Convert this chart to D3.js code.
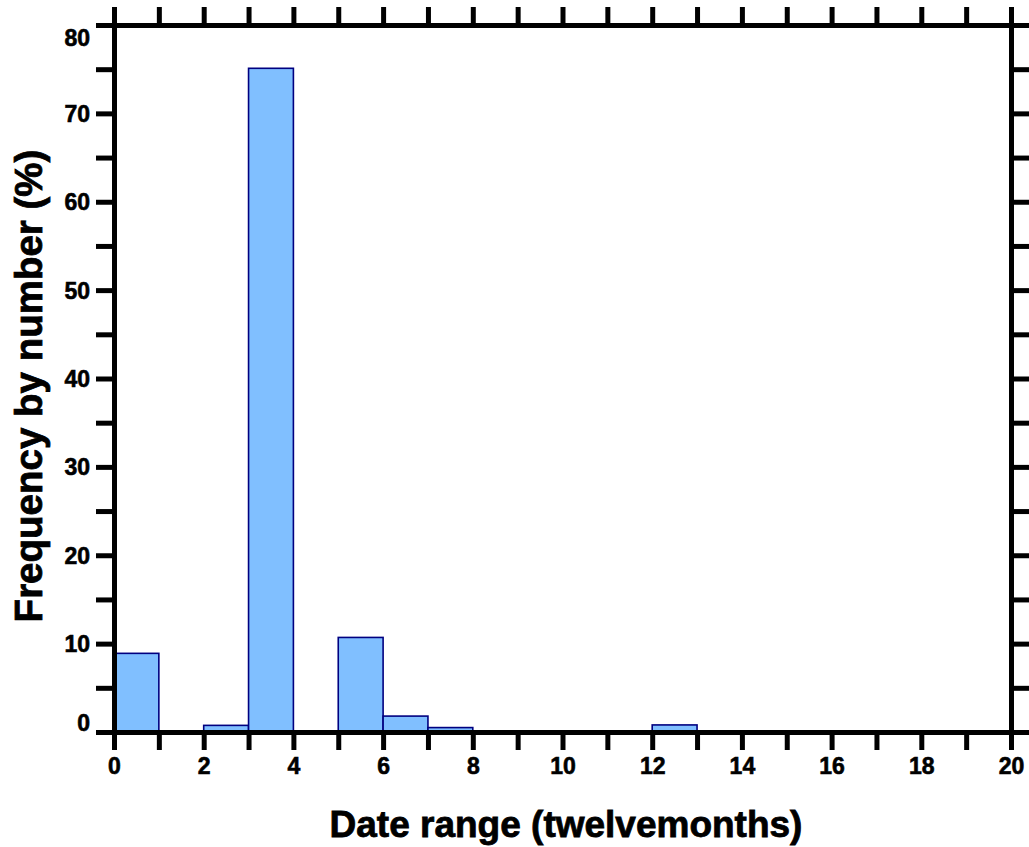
<!DOCTYPE html>
<html>
<head>
<meta charset="utf-8">
<script src="https://cdn.jsdelivr.net/npm/d3@7"></script>
<style>
  body { margin: 0; background: #fff; }
  text { font-family: "Liberation Sans", Arial, sans-serif; font-weight: bold; fill: #000; }
</style>
</head>
<body>
<div id="chart"></div>
<script>
// histogram bins (twelvemonths), width 1
var binStart = [0, 1, 2, 3, 4, 5, 6, 7, 8, 9, 10, 11, 12, 13, 14, 15, 16, 17, 18, 19];
var freq     = [8.9, 0, 0.75, 75.1, 0, 10.7, 1.8, 0.5, 0, 0, 0, 0, 0.8, 0, 0, 0, 0, 0, 0, 0];
var xTickLabels = [0, 2, 4, 6, 8, 10, 12, 14, 16, 18, 20];
var yTickLabels = [0, 10, 20, 30, 40, 50, 60, 70, 80];

var svgWidth = 1029;
var svgHeight = 847;

var margin = { top: 25, right: 18, bottom: 115, left: 114 };
var width = 1011 - margin.left;
var height = 732 - margin.top;

var svg = d3.select("#chart")
  .append("svg")
  .attr("width", svgWidth)
  .attr("height", svgHeight);

var chartGroup = svg.append("g")
  .attr("transform", `translate(${margin.left}, ${margin.top})`);

var xScale = d3.scaleLinear().domain([0, 20]).range([0, width]);
var yScale = d3.scaleLinear().domain([0, 80]).range([height, 0]);

var bins = binStart.map((b, i) => ({ x0: b, x1: b + 1, v: freq[i] }))
  .filter(d => d.v > 0);

// bars
chartGroup.selectAll("rect.bar")
  .data(bins)
  .enter()
  .append("rect")
  .attr("class", "bar")
  .attr("x", d => xScale(d.x0))
  .attr("y", d => yScale(d.v))
  .attr("width", d => xScale(d.x1) - xScale(d.x0))
  .attr("height", d => yScale(0) - yScale(d.v))
  .attr("fill", "#80bfff")
  .attr("stroke", "#000080")
  .attr("stroke-width", 1.6);

var tickLen = 18;
var lw = 5;

// axes, ticks outward on all four sides
var bottomAxis = d3.axisBottom(xScale)
  .tickValues(d3.range(0, 21, 1))
  .tickSize(tickLen).tickSizeOuter(0)
  .tickFormat(d => xTickLabels.includes(d) ? d : "");
var topAxis = d3.axisTop(xScale)
  .tickValues(d3.range(0, 21, 1))
  .tickSize(tickLen).tickSizeOuter(0)
  .tickFormat("");
var leftAxis = d3.axisLeft(yScale)
  .tickValues(d3.range(0, 81, 5))
  .tickSize(tickLen).tickSizeOuter(0)
  .tickFormat(d => yTickLabels.includes(d) ? d : "");
var rightAxis = d3.axisRight(yScale)
  .tickValues(d3.range(0, 81, 5))
  .tickSize(tickLen).tickSizeOuter(0)
  .tickFormat("");

var xAxisG = chartGroup.append("g")
  .attr("transform", `translate(0, ${height})`)
  .call(bottomAxis);
var topG = chartGroup.append("g").call(topAxis);
var yAxisG = chartGroup.append("g").call(leftAxis);
var rightG = chartGroup.append("g")
  .attr("transform", `translate(${width}, 0)`)
  .call(rightAxis);

[xAxisG, topG, yAxisG, rightG].forEach(g => {
  g.select(".domain").attr("stroke", "#000").attr("stroke-width", lw)
    .attr("stroke-linecap", "square");
  g.selectAll(".tick line").attr("stroke", "#000").attr("stroke-width", lw);
});

xAxisG.selectAll(".tick text")
  .attr("font-size", "23px")
  .attr("y", 26)
  .attr("dy", "0.71em")
  .attr("stroke", "#000")
  .attr("stroke-width", 0.6)
  .style("font-family", "'Liberation Sans', Arial, sans-serif")
  .style("font-weight", "bold");

yAxisG.selectAll(".tick text")
  .attr("font-size", "23px")
  .attr("x", -24)
  .attr("dy", d => d === 80 ? "0.9em" : (d === 0 ? "-0.05em" : "0.35em"))
  .attr("stroke", "#000")
  .attr("stroke-width", 0.6)
  .style("font-family", "'Liberation Sans', Arial, sans-serif")
  .style("font-weight", "bold");

// axis titles
svg.append("text")
  .attr("x", 566)
  .attr("y", 837)
  .attr("text-anchor", "middle")
  .attr("font-size", "37px")
  .attr("stroke", "#000")
  .attr("stroke-width", 0.8)
  .text("Date range (twelvemonths)");

svg.append("text")
  .attr("transform", "translate(42, 386) rotate(-90)")
  .attr("text-anchor", "middle")
  .attr("font-size", "38.5px")
  .attr("stroke", "#000")
  .attr("stroke-width", 0.8)
  .text("Frequency by number (%)");
</script>
</body>
</html>
